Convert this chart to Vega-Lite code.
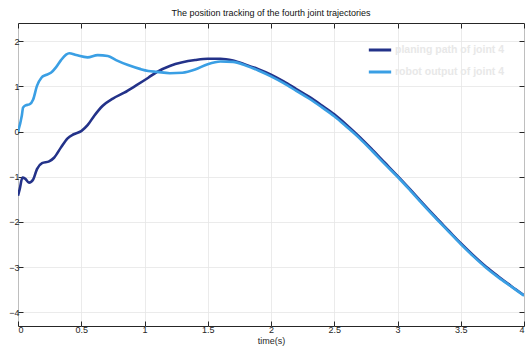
{
  "$schema": "https://vega.github.io/schema/vega-lite/v6.json",
  "autosize": "none",
  "width": 506,
  "height": 303,
  "padding": {"left": 18, "top": 23, "right": 1, "bottom": 28},
  "background": "white",
  "title": {"text": "The position tracking of the fourth joint trajectories", "fontSize": 9, "fontWeight": "normal", "font": "Liberation Sans", "color": "#111", "offset": 5, "anchor": "middle"},
  "config": {
    "view": {"stroke": "#262626", "strokeWidth": 1},
    "axis": {"labelFont": "Liberation Sans", "titleFont": "Liberation Sans", "labelFontSize": 9, "titleFontSize": 9, "labelColor": "#262626", "titleColor": "#262626", "titleFontWeight": "normal", "domain": false, "tickColor": "#262626", "tickSize": -5, "gridColor": "#e6e6e6", "gridWidth": 0.8, "labelOverlap": false, "format": "~g"}
  },
  "data": {"values": [
    {"t": 0, "y": -1.42, "s": "planing path of joint 4"},
    {"t": 0.013, "y": -1.28, "s": "planing path of joint 4"},
    {"t": 0.035, "y": -1.02, "s": "planing path of joint 4"},
    {"t": 0.056, "y": -1.04, "s": "planing path of joint 4"},
    {"t": 0.087, "y": -1.13, "s": "planing path of joint 4"},
    {"t": 0.12, "y": -1.06, "s": "planing path of joint 4"},
    {"t": 0.15, "y": -0.83, "s": "planing path of joint 4"},
    {"t": 0.19, "y": -0.70, "s": "planing path of joint 4"},
    {"t": 0.246, "y": -0.66, "s": "planing path of joint 4"},
    {"t": 0.285, "y": -0.58, "s": "planing path of joint 4"},
    {"t": 0.34, "y": -0.35, "s": "planing path of joint 4"},
    {"t": 0.39, "y": -0.155, "s": "planing path of joint 4"},
    {"t": 0.44, "y": -0.06, "s": "planing path of joint 4"},
    {"t": 0.5, "y": 0.01, "s": "planing path of joint 4"},
    {"t": 0.55, "y": 0.14, "s": "planing path of joint 4"},
    {"t": 0.603, "y": 0.35, "s": "planing path of joint 4"},
    {"t": 0.67, "y": 0.57, "s": "planing path of joint 4"},
    {"t": 0.75, "y": 0.73, "s": "planing path of joint 4"},
    {"t": 0.84, "y": 0.86, "s": "planing path of joint 4"},
    {"t": 0.934, "y": 1.02, "s": "planing path of joint 4"},
    {"t": 1.03, "y": 1.19, "s": "planing path of joint 4"},
    {"t": 1.1, "y": 1.32, "s": "planing path of joint 4"},
    {"t": 1.2, "y": 1.45, "s": "planing path of joint 4"},
    {"t": 1.3, "y": 1.53, "s": "planing path of joint 4"},
    {"t": 1.4, "y": 1.58, "s": "planing path of joint 4"},
    {"t": 1.5, "y": 1.61, "s": "planing path of joint 4"},
    {"t": 1.6, "y": 1.61, "s": "planing path of joint 4"},
    {"t": 1.7, "y": 1.57, "s": "planing path of joint 4"},
    {"t": 1.8, "y": 1.48, "s": "planing path of joint 4"},
    {"t": 1.9, "y": 1.38, "s": "planing path of joint 4"},
    {"t": 2.0, "y": 1.26, "s": "planing path of joint 4"},
    {"t": 2.1, "y": 1.11, "s": "planing path of joint 4"},
    {"t": 2.2, "y": 0.94, "s": "planing path of joint 4"},
    {"t": 2.3, "y": 0.77, "s": "planing path of joint 4"},
    {"t": 2.4, "y": 0.58, "s": "planing path of joint 4"},
    {"t": 2.5, "y": 0.38, "s": "planing path of joint 4"},
    {"t": 2.6, "y": 0.14, "s": "planing path of joint 4"},
    {"t": 2.7, "y": -0.12, "s": "planing path of joint 4"},
    {"t": 2.8, "y": -0.40, "s": "planing path of joint 4"},
    {"t": 2.9, "y": -0.69, "s": "planing path of joint 4"},
    {"t": 3.0, "y": -0.98, "s": "planing path of joint 4"},
    {"t": 3.1, "y": -1.28, "s": "planing path of joint 4"},
    {"t": 3.2, "y": -1.59, "s": "planing path of joint 4"},
    {"t": 3.3, "y": -1.89, "s": "planing path of joint 4"},
    {"t": 3.4, "y": -2.18, "s": "planing path of joint 4"},
    {"t": 3.5, "y": -2.47, "s": "planing path of joint 4"},
    {"t": 3.6, "y": -2.74, "s": "planing path of joint 4"},
    {"t": 3.7, "y": -2.99, "s": "planing path of joint 4"},
    {"t": 3.8, "y": -3.21, "s": "planing path of joint 4"},
    {"t": 3.9, "y": -3.42, "s": "planing path of joint 4"},
    {"t": 4.0, "y": -3.62, "s": "planing path of joint 4"},
    {"t": 0, "y": 0, "s": "robot output of joint 4"},
    {"t": 0.03, "y": 0.35, "s": "robot output of joint 4"},
    {"t": 0.04, "y": 0.53, "s": "robot output of joint 4"},
    {"t": 0.06, "y": 0.58, "s": "robot output of joint 4"},
    {"t": 0.09, "y": 0.6, "s": "robot output of joint 4"},
    {"t": 0.12, "y": 0.71, "s": "robot output of joint 4"},
    {"t": 0.15, "y": 1.01, "s": "robot output of joint 4"},
    {"t": 0.185, "y": 1.19, "s": "robot output of joint 4"},
    {"t": 0.22, "y": 1.25, "s": "robot output of joint 4"},
    {"t": 0.26, "y": 1.30, "s": "robot output of joint 4"},
    {"t": 0.30, "y": 1.42, "s": "robot output of joint 4"},
    {"t": 0.34, "y": 1.58, "s": "robot output of joint 4"},
    {"t": 0.38, "y": 1.70, "s": "robot output of joint 4"},
    {"t": 0.405, "y": 1.73, "s": "robot output of joint 4"},
    {"t": 0.46, "y": 1.69, "s": "robot output of joint 4"},
    {"t": 0.55, "y": 1.64, "s": "robot output of joint 4"},
    {"t": 0.63, "y": 1.69, "s": "robot output of joint 4"},
    {"t": 0.71, "y": 1.67, "s": "robot output of joint 4"},
    {"t": 0.775, "y": 1.58, "s": "robot output of joint 4"},
    {"t": 0.87, "y": 1.47, "s": "robot output of joint 4"},
    {"t": 0.97, "y": 1.38, "s": "robot output of joint 4"},
    {"t": 1.03, "y": 1.34, "s": "robot output of joint 4"},
    {"t": 1.1, "y": 1.32, "s": "robot output of joint 4"},
    {"t": 1.2, "y": 1.29, "s": "robot output of joint 4"},
    {"t": 1.3, "y": 1.30, "s": "robot output of joint 4"},
    {"t": 1.4, "y": 1.37, "s": "robot output of joint 4"},
    {"t": 1.5, "y": 1.49, "s": "robot output of joint 4"},
    {"t": 1.6, "y": 1.55, "s": "robot output of joint 4"},
    {"t": 1.7, "y": 1.54, "s": "robot output of joint 4"},
    {"t": 1.8, "y": 1.46, "s": "robot output of joint 4"},
    {"t": 1.9, "y": 1.35, "s": "robot output of joint 4"},
    {"t": 2.0, "y": 1.22, "s": "robot output of joint 4"},
    {"t": 2.1, "y": 1.07, "s": "robot output of joint 4"},
    {"t": 2.2, "y": 0.90, "s": "robot output of joint 4"},
    {"t": 2.3, "y": 0.73, "s": "robot output of joint 4"},
    {"t": 2.4, "y": 0.54, "s": "robot output of joint 4"},
    {"t": 2.5, "y": 0.34, "s": "robot output of joint 4"},
    {"t": 2.6, "y": 0.10, "s": "robot output of joint 4"},
    {"t": 2.7, "y": -0.15, "s": "robot output of joint 4"},
    {"t": 2.8, "y": -0.43, "s": "robot output of joint 4"},
    {"t": 2.9, "y": -0.72, "s": "robot output of joint 4"},
    {"t": 3.0, "y": -1.00, "s": "robot output of joint 4"},
    {"t": 3.1, "y": -1.30, "s": "robot output of joint 4"},
    {"t": 3.2, "y": -1.61, "s": "robot output of joint 4"},
    {"t": 3.3, "y": -1.91, "s": "robot output of joint 4"},
    {"t": 3.4, "y": -2.20, "s": "robot output of joint 4"},
    {"t": 3.5, "y": -2.49, "s": "robot output of joint 4"},
    {"t": 3.6, "y": -2.76, "s": "robot output of joint 4"},
    {"t": 3.7, "y": -3.01, "s": "robot output of joint 4"},
    {"t": 3.8, "y": -3.23, "s": "robot output of joint 4"},
    {"t": 3.9, "y": -3.43, "s": "robot output of joint 4"},
    {"t": 4.0, "y": -3.63, "s": "robot output of joint 4"}
  ]},
  "layer": [
    {
      "mark": {"type": "line", "strokeWidth": 2.6, "interpolate": "monotone", "clip": true},
      "encoding": {
        "x": {"field": "t", "type": "quantitative", "scale": {"domain": [0, 4], "nice": false, "zero": false}, "axis": {"orient": "bottom", "title": "time(s)", "values": [0, 0.5, 1, 1.5, 2, 2.5, 3, 3.5, 4], "titlePadding": 2, "labelPadding": 4, "labelFlush": true}},
        "y": {"field": "y", "type": "quantitative", "scale": {"domain": [-4.3, 2.4], "nice": false, "zero": false}, "axis": {"orient": "left", "title": null, "values": [-4, -3, -2, -1, 0, 1, 2], "labelPadding": 4}},
        "color": {"field": "s", "type": "nominal", "sort": ["planing path of joint 4", "robot output of joint 4"], "scale": {"domain": ["planing path of joint 4", "robot output of joint 4"], "range": ["#233289", "#3a9fe4"]},
          "legend": {"title": null, "orient": "none", "legendX": 349, "legendY": 14, "symbolType": "stroke", "symbolStrokeWidth": 3, "symbolSize": 500, "labelColor": "#e8e8e8", "labelFontSize": 10.5, "labelFont": "Liberation Sans", "labelFontWeight": "bold", "rowPadding": 3, "labelOffset": 2}}
      }
    },
    {
      "mark": {"type": "line", "opacity": 0},
      "encoding": {
        "x": {"field": "t", "type": "quantitative", "axis": {"orient": "top", "title": null, "labels": false, "grid": false, "values": [0, 0.5, 1, 1.5, 2, 2.5, 3, 3.5, 4]}},
        "y": {"field": "y", "type": "quantitative", "axis": {"orient": "right", "title": null, "labels": false, "grid": false, "values": [-4, -3, -2, -1, 0, 1, 2]}}
      }
    }
  ],
  "resolve": {"axis": {"x": "independent", "y": "independent"}}
}
